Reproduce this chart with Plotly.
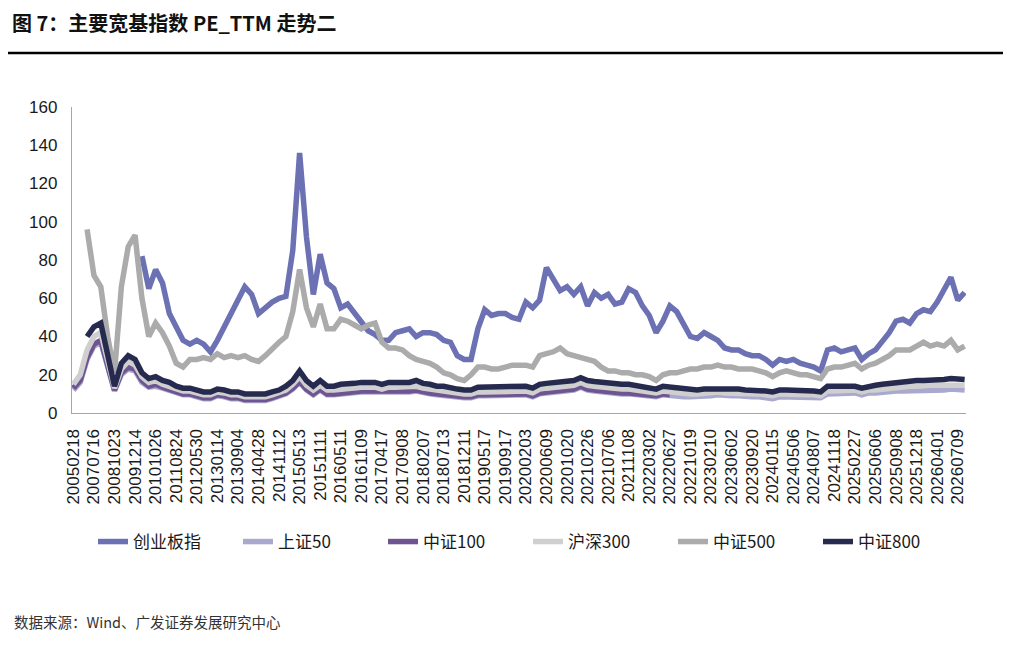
import plotly.graph_objects as go

# 横轴标签（每 3 个数据点一个）
tick_labels = [
    "20050218", "20070716", "20081023", "20091214", "20101026", "20110824",
    "20120530", "20130114", "20130904", "20140428", "20141112", "20150513",
    "20151111", "20160511", "20161109", "20170417", "20170908", "20180207",
    "20180713", "20181211", "20190517", "20190917", "20200203", "20200609",
    "20201020", "20210226", "20210706", "20211108", "20220302", "20220627",
    "20221019", "20230210", "20230602", "20230920", "20240115", "20240506",
    "20240807", "20241118", "20250227", "20250606", "20250908", "20251218",
    "20260401", "20260709",
]

N = None

cyb = [
    N, N, N, N, N, N, N, N, N, N,
    82, 65, 75, 68, 52, 45, 38, 36, 38, 36, 32, 38, 45, 53, 60, 66, 62, 52, 55, 58, 60,
    61, 85, 136, 92, 62, 83, 68, 65, 55, 57, 52, 47, 43, 41, 38, 38, 42, 43, 44, 40,
    42, 42, 41, 38, 37, 30, 28, 28, 44, 54, 51, 52,
    52, 50, 49, 58, 55, 59, 76, 70, 64, 66, 62, 66, 56, 63, 60, 62, 57, 58, 65, 63,
    56, 51, 42, 48, 56, 53, 46, 40, 39, 42, 40, 38, 34, 33,
    33, 31, 30, 30, 28, 25, 28, 27, 28, 26, 25, 24, 22, 33, 34, 32, 33, 34, 28, 31,
    33, 37, 42, 48, 49, 47, 52, 54, 53, 58, 64, 71, 59, 63,
]

sz50 = [
    12, 16, 28, 35, 37, 24, 11.5, 20, 23, 22, 16, 13.5, 14, 13, 12, 10.5, 9.5, 9.5,
    8.5, 7.5, 7.5, 9, 8.5, 7.5, 7.5, 6.5, 6.5, 6.5, 6.5, 7.5, 8.5,
    10, 12.5, 16, 12, 9.5, 12, 9.5, 9.5, 10, 10, 10.5, 11, 11, 11, 10.5, 11, 11, 11,
    11, 11.5, 10.5, 10, 9.5, 9, 8.5, 8, 8, 8, 9, 9, 9, 9.5,
    9.5, 9, 9, 9.5, 8.5, 10, 10.5, 11, 11.5, 12, 12, 13.5, 12, 11.5, 11, 11, 10.5,
    10, 10, 9.5, 9.5, 9, 8.5, 9.5, 9, 9, 8.5, 8.5, 8.5, 9, 9, 9.5, 9, 9,
    9, 8.5, 8.5, 8.5, 8, 7.5, 8.5, 8.5, 8.5, 8.5, 8.5, 8, 8, 10, 10, 10, 10, 10.5,
    9.5, 10.5, 10.5, 11, 11, 11.5, 11.5, 11.5, 12, 12, 12, 12, 12, 12.5, 12, 12,
]

zz100 = [
    13, 17, 29, 36, 38, 25, 12, 21, 24, 23, 17, 14, 15, 13.5, 12.5, 11, 10, 10, 9,
    8, 8, 9.5, 9, 8, 8, 7, 7, 7, 7, 8, 9,
    10.5, 13, 16.5, 12.5, 10, 12.5, 10, 10, 10.5, 10.5, 11, 11.5, 11.5, 11.5, 11,
    11.5, 11.5, 11.5, 11.5, 12, 11, 10.5, 10, 9.5, 9, 8.5, 8.5, 8.5, 9.5, 9.5, 9.5, 10,
    10, 9.5, 9.5, 10, 9, 10.5, 11, 11.5, 12, 12.5, 12.5, 14, 12.5, 12, 11.5, 11.5,
    11, 10.5, 10.5, 10, 10, 9.5, 9, 10, 9.5,
]

hs300 = [
    15, 20, 33, 40, 42, 28, 13, 23, 27, 25, 19, 16, 17, 15, 14, 12.5, 11.5, 11.5,
    10.5, 9.5, 9.5, 11, 10.5, 9.5, 9.5, 8.5, 8.5, 8.5, 8.5, 9.5, 10.5,
    12, 15, 19, 14.5, 12, 14.5, 12, 12, 12.5, 12.5, 13, 13.5, 13.5, 13.5, 12.5, 13.5,
    13.5, 13.5, 13.5, 14, 13, 12.5, 11.5, 11.5, 11, 10.5, 10, 10, 11, 11, 11, 11.5,
    11.5, 11, 11, 11.5, 10.5, 12.5, 13, 13.5, 14, 14.5, 14.5, 16, 14.5, 14, 13.5,
    13.5, 13, 12.5, 12.5, 12, 11.5, 11, 10.5, 11.5, 11, 11, 10.5, 10, 10, 10.5,
    10.5, 11, 10.5, 10.5,
    10.5, 10, 10, 10, 9.5, 9, 10, 10, 10, 10, 10, 9.5, 9, 11.5, 11.5, 11.5, 11.5,
    12, 11, 12, 12, 12.5, 13, 13.5, 14, 14, 14, 14.5, 14.5, 14.5, 14.5, 15, 14.5, 14.5,
]

zz500 = [
    N, N, 96, 72, 66, 40, 21, 66, 87, 93, 60, 40, 47, 42, 35, 26, 24, 28, 28, 29,
    28, 31, 29, 30, 29, 30, 28, 27, 30, 34, 37,
    40, 53, 75, 55, 45, 57, 44, 44, 49, 48, 46, 44, 46, 47, 37, 34, 34, 33, 30, 28,
    27, 26, 24, 21, 20, 18, 17, 20, 24, 24, 23, 23,
    24, 25, 25, 25, 24, 30, 31, 32, 34, 31, 30, 29, 28, 27, 24, 22, 22, 21, 21, 20,
    20, 19, 17, 20, 21, 21, 22, 23, 23, 24, 24, 25, 24, 24,
    23, 23, 23, 22, 21, 19, 21, 22, 21, 20, 20, 19, 18, 23, 24, 24, 25, 26, 23, 25,
    26, 28, 30, 33, 33, 33, 35, 37, 35, 36, 35, 38, 33, 35,
]

zz800 = [
    N, N, 40, 45, 47, 31, 14, 26, 30, 28, 21, 18, 19, 17, 16, 14, 13, 13, 12, 11,
    11, 12.5, 12, 11, 11, 10, 10, 10, 10, 11, 12,
    14, 17, 22, 17, 14, 17, 14, 14, 15, 15, 15.5, 16, 16, 16, 15, 16, 16, 16, 16, 17,
    15.5, 15, 14, 14, 13, 12.5, 12, 12, 13.5, 13.5, 13.5, 14,
    14, 13.5, 13.5, 14, 13, 15, 15.5, 16, 16.5, 17, 17, 18.5, 17, 16.5, 16, 16, 15.5,
    15, 15, 14.5, 14, 13.5, 12.5, 14, 13.5, 13, 12.5, 12, 12, 12.5, 12.5, 13, 12.5, 12.5,
    12.5, 12, 12, 12, 11.5, 11, 12, 12, 12, 12, 12, 11.5, 11, 14, 14, 14, 14, 14, 13,
    14, 14.5, 15, 15.5, 16, 16.5, 16.5, 17, 17, 17, 17, 17.5, 18, 17.5, 17.5,
]

series = [
    ("创业板指", cyb, "#6B71B2"),
    ("上证50", sz50, "#A9A8CE"),
    ("中证100", zz100, "#6E5490"),
    ("沪深300", hs300, "#CFCFCF"),
    ("中证500", zz500, "#ABABAB"),
    ("中证800", zz800, "#262A4E"),
]

fig = go.Figure()
for name, vals, color in series:
    fig.add_trace(go.Scatter(
        x=list(range(len(vals))),
        y=vals,
        name=name,
        mode="lines",
        line=dict(color=color, width=5.5),
        connectgaps=False,
    ))

font_num = "Liberation Sans, Arial, Noto Sans CJK SC, sans-serif"
font_cjk = "Noto Sans CJK SC, Liberation Sans, sans-serif"

# 页面默认有 8px 的 body 边距，布局整体向左上挪 8px
fig.update_layout(
    width=1011,
    height=645,
    paper_bgcolor="white",
    plot_bgcolor="white",
    font=dict(family=font_num, color="#1a1a1a", size=17),
    margin=dict(l=64, r=53, t=99, b=240),
    showlegend=True,
    title=dict(
        text="图 7：主要宽基指数 PE_TTM 走势二",
        font=dict(family=font_cjk, size=20, color="#111", weight="bold"),
        xref="container", x=4 / 1011, xanchor="left",
        yref="container", y=1 - 16 / 645, yanchor="middle",
    ),
    legend=dict(
        orientation="h",
        xref="container", x=520 / 1011, xanchor="center",
        yref="container", y=(645 - 534) / 645, yanchor="middle",
        font=dict(family=font_cjk, size=17, color="#1a1a1a"),
        entrywidth=100,
        bgcolor="rgba(0,0,0,0)",
    ),
    xaxis=dict(
        range=[-0.2, 130.2],
        tickvals=list(range(0, 3 * len(tick_labels), 3)),
        ticktext=tick_labels,
        tickangle=-90,
        showgrid=False,
        zeroline=False,
        showline=True,
        linecolor="#A6A6A6",
        linewidth=1.3,
        ticks="",
        ticklabelstandoff=8,
        tickfont=dict(size=17),
    ),
    yaxis=dict(
        range=[0, 160],
        tickvals=list(range(0, 161, 20)),
        showgrid=False,
        zeroline=False,
        showline=True,
        linecolor="#A6A6A6",
        linewidth=1.3,
        ticks="",
        ticklabelstandoff=10,
        tickfont=dict(size=17),
    ),
    shapes=[dict(
        type="line", xref="paper", yref="paper",
        x0=-72 / 894, x1=(1011 - 72) / 894,
        y0=(413 - 53) / 306, y1=(413 - 53) / 306,
        line=dict(color="#000", width=2.5),
    )],
    annotations=[dict(
        text="数据来源：Wind、广发证券发展研究中心",
        xref="paper", yref="paper",
        x=(12 - 72) / 894, xanchor="left",
        y=(413 - 621) / 306, yanchor="middle",
        showarrow=False,
        font=dict(family=font_cjk, size=14.5, color="#333"),
    )],
)

fig.write_html("out.html")
